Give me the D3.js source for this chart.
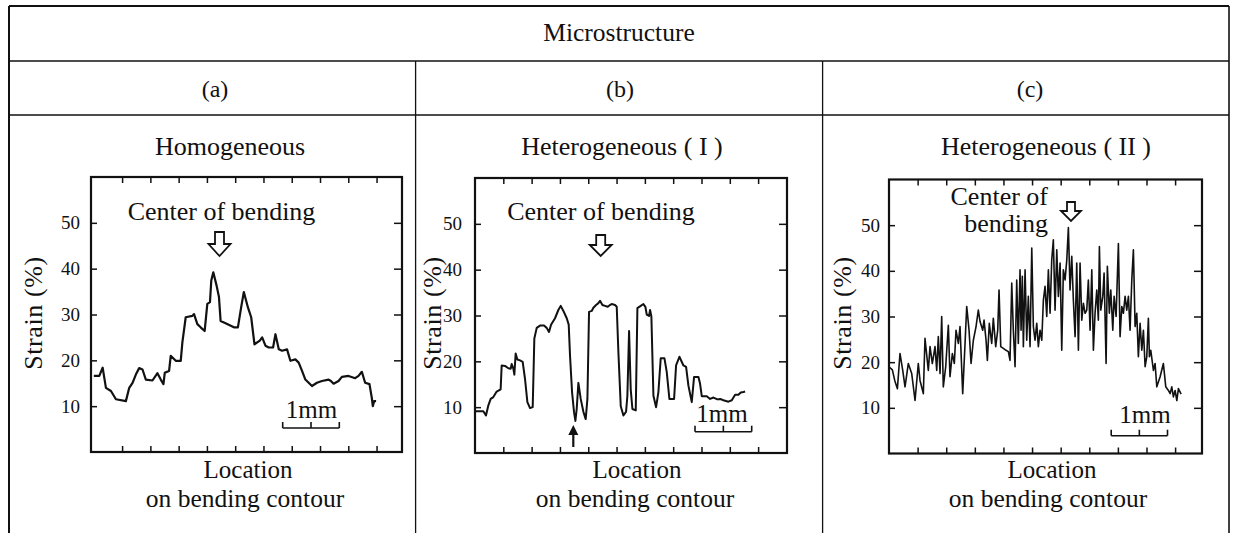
<!DOCTYPE html>
<html><head><meta charset="utf-8">
<script src="https://cdn.jsdelivr.net/npm/d3@7"></script>
<style>
body{margin:0;background:#fff;}
svg{display:block;}
</style>
</head><body>
<svg id="chart" width="1237" height="533"></svg>
<script>
// ---------------- data ----------------
const headerText = "Microstructure";
const columnLabels = ["(a)", "(b)", "(c)"];
const panelTitles = ["Homogeneous", "Heterogeneous ( I )", "Heterogeneous ( II )"];
const yTickValues = [10, 20, 30, 40, 50];
const xTickValues = [0.5, 1, 1.5, 2, 2.5, 3, 3.5, 4, 4.5, 5];
const yLabel = "Strain (%)";
const xLabelLines = ["Location", "on bending contour"];
const annotationA = ["Center of bending"];
const annotationB = ["Center of bending"];
const annotationC = ["Center of", "bending"];
const scaleBarLabel = "1mm";

// (a) Homogeneous: location (mm) vs strain (%)
const locationA = [0,0.097,0.156,0.214,0.303,0.391,0.567,0.626,0.685,0.743,
  0.802,0.861,0.920,1.037,1.125,1.184,1.231,1.255,1.331,1.360,
  1.449,1.537,1.566,1.625,1.742,1.772,1.831,1.889,1.960,2.007,
  2.054,2.077,2.113,2.171,2.213,2.242,2.330,2.477,2.548,2.606,
  2.653,2.724,2.783,2.841,2.935,2.977,3.035,3.094,3.170,3.212,
  3.271,3.329,3.417,3.476,3.564,3.623,3.682,3.741,3.858,3.946,
  4.034,4.152,4.193,4.240,4.328,4.387,4.505,4.622,4.681,4.740,
  4.798,4.875,4.916,4.934,4.957,4.992];
const strainA = [16.6,16.6,18.4,14.0,13.3,11.5,11.1,14.0,15.1,16.9,
  18.3,18.0,15.8,15.6,17.2,15.8,14.8,17.3,17.7,21.0,
  19.9,19.9,23.9,29.4,29.7,30.1,27.9,27.2,26.4,32.3,
  32.7,37.4,39.2,36.3,33.8,28.6,28.1,27.2,27.2,31.6,
  34.9,31.6,29.4,23.5,24.3,25.0,23.2,22.8,22.8,25.7,
  22.4,22.1,22.4,19.9,20.2,19.5,17.7,15.8,14.4,15.1,
  15.5,15.8,15.5,14.9,15.5,16.4,16.6,16.1,16.6,17.5,
  15.1,14.8,11.8,10.0,11.1,11.1];

// (b) Heterogeneous (I)
const locationB = [0,0.088,0.147,0.194,0.236,0.277,0.324,0.383,0.453,0.471,
  0.530,0.589,0.630,0.648,0.677,0.695,0.718,0.748,0.795,0.842,
  0.883,0.925,0.972,1.019,1.048,1.090,1.148,1.219,1.266,1.307,
  1.343,1.413,1.472,1.514,1.561,1.620,1.655,1.678,1.714,1.749,
  1.773,1.796,1.826,1.867,1.914,1.955,1.985,2.014,2.061,2.091,
  2.138,2.179,2.208,2.250,2.297,2.344,2.385,2.415,2.473,2.503,
  2.532,2.574,2.621,2.668,2.691,2.721,2.750,2.780,2.839,2.868,
  2.927,2.974,3.009,3.033,3.074,3.092,3.115,3.151,3.198,3.239,
  3.280,3.345,3.386,3.433,3.516,3.551,3.610,3.681,3.728,3.769,
  3.828,3.869,3.946,3.975,4.005,4.093,4.152,4.211,4.282,4.329,
  4.387,4.476,4.535,4.594,4.652,4.694,4.741,4.770];
const strainB = [9.1,9.1,9.1,8.2,10.4,11.8,12.2,13.4,13.9,19.1,
  19.0,18.5,18.4,19.4,18.4,17.1,21.7,20.4,20.2,19.9,
  16.2,11.1,9.8,10.0,25.0,27.3,27.8,27.8,27.3,26.4,
  28.0,29.4,31.2,32.1,31.0,29.4,28.0,21.3,13.3,8.9,
  7.0,9.6,15.3,11.8,9.0,7.4,11.8,30.8,31.0,31.7,
  32.3,32.7,33.2,32.3,32.1,31.9,32.3,32.5,32.3,31.9,
  22.1,10.2,8.2,9.0,12.5,26.6,13.9,9.6,9.3,31.6,
  32.1,32.5,31.9,30.2,29.9,31.2,29.8,12.5,10.0,13.3,
  20.7,20.7,17.7,11.8,11.8,19.1,21.0,19.1,18.8,14.7,
  11.1,16.6,16.6,15.1,12.4,12.4,11.8,12.1,11.7,11.8,
  11.5,11.2,11.5,12.7,12.7,13.2,13.3,13.4];

// (c) Heterogeneous (II)
const locationC = [0,0.059,0.100,0.147,0.192,0.240,0.280,0.337,0.397,0.455,
  0.512,0.542,0.600,0.629,0.687,0.717,0.757,0.804,0.834,0.862,
  0.892,0.921,0.949,0.991,1.037,1.066,1.107,1.142,1.171,1.212,
  1.241,1.288,1.329,1.358,1.399,1.434,1.474,1.521,1.561,1.591,
  1.638,1.661,1.696,1.719,1.753,1.795,1.823,1.865,1.900,1.923,
  1.953,1.998,2.045,2.086,2.115,2.145,2.173,2.203,2.232,2.260,
  2.290,2.308,2.330,2.348,2.378,2.407,2.435,2.465,2.495,2.523,
  2.552,2.582,2.610,2.640,2.670,2.698,2.727,2.757,2.785,2.815,
  2.844,2.872,2.902,2.932,2.960,2.990,3.019,3.047,3.077,3.107,
  3.135,3.164,3.194,3.222,3.252,3.281,3.310,3.339,3.369,3.397,
  3.427,3.456,3.484,3.514,3.544,3.572,3.601,3.631,3.659,3.677,
  3.701,3.736,3.759,3.794,3.816,3.851,3.876,3.911,3.934,3.969,
  4.009,4.038,4.068,4.096,4.126,4.155,4.184,4.213,4.243,4.271,
  4.301,4.330,4.358,4.388,4.418,4.446,4.476,4.505,4.533,4.551,
  4.575,4.621,4.650,4.680,4.738,4.795,4.837,4.883,4.913,4.942,
  4.970,5.000,5.030,5.058,5.105];
const strainC = [19.0,18.3,16.0,14.2,21.9,18.2,14.6,19.7,17.5,11.6,
  19.7,16.0,13.1,25.2,18.2,23.4,19.7,23.4,18.2,25.6,
  17.5,30.0,14.6,19.0,28.1,16.8,21.9,19.7,27.0,24.1,
  27.8,13.1,24.1,32.2,27.0,19.7,24.8,27.8,31.4,28.9,
  27.0,29.2,24.8,20.4,28.5,24.1,29.6,23.4,27.0,35.8,
  23.4,23.0,22.6,22.3,20.4,37.3,27.0,19.0,38.0,24.1,
  40.2,27.0,38.8,23.4,40.2,24.8,34.4,23.4,45.0,27.8,
  24.8,28.5,23.4,27.0,24.8,33.6,36.6,30.0,40.2,30.7,
  42.4,46.8,31.4,44.6,34.4,41.7,22.6,40.2,38.0,42.4,
  49.5,35.8,43.2,33.6,25.6,41.7,22.6,41.7,29.2,32.9,
  30.7,31.4,38.0,27.0,40.2,22.6,30.7,35.8,29.2,45.3,
  31.4,34.4,39.5,19.7,41.0,30.7,35.8,27.0,34.4,30.0,
  46.0,25.6,32.2,30.7,34.4,31.4,34.4,27.0,38.0,44.6,
  27.8,30.7,21.2,28.5,22.6,27.0,19.0,21.2,29.6,21.2,
  22.6,18.2,19.7,14.6,16.8,19.7,14.6,13.8,13.1,14.6,
  12.4,13.8,11.6,14.2,13.0];

// ---------------- layout ----------------
const FONT = '"Liberation Serif", "Tinos", "Times New Roman", serif';
const svg = d3.select("#chart");
svg.append("rect").attr("width",1237).attr("height",533).attr("fill","#fff");
const txt = (x, y, s, size, anchor) => svg.append("text").attr("x",x).attr("y",y)
  .attr("text-anchor",anchor || "middle").style("font-family",FONT).style("font-size",size+"px")
  .style("fill","#111").text(s);

const T = {left:9, right:1229, top:6, bottom:533, row1:61, row2:115, dividers:[415.6, 822.6]};
const tbl = svg.append("g").attr("stroke","#111").attr("fill","none");
tbl.append("line").attr("x1",T.left).attr("x2",T.right).attr("y1",T.top).attr("y2",T.top).attr("stroke-width",2);
tbl.append("line").attr("x1",T.left).attr("x2",T.left).attr("y1",T.top).attr("y2",T.bottom).attr("stroke-width",2);
tbl.append("line").attr("x1",T.right).attr("x2",T.right).attr("y1",T.top).attr("y2",T.bottom).attr("stroke-width",1.6);
[T.row1, T.row2].forEach(y => tbl.append("line").attr("x1",T.left).attr("x2",T.right).attr("y1",y).attr("y2",y).attr("stroke-width",1.6));
T.dividers.forEach(x => tbl.append("line").attr("x1",x).attr("x2",x).attr("y1",T.row1).attr("y2",T.bottom).attr("stroke-width",1.3));

txt(619, 41, headerText, 25.5);
const colCenters = [215, 620, 1030];
columnLabels.forEach((t,i) => txt(colCenters[i], 97, t, 24));

const panels = [
  {loc:locationA, val:strainA, x0:91, x1:402, y0:177, y1:452, dom:[-0.05,5.45], pad:11, lw:2.2,
   title:panelTitles[0], titleX:230, yLabX:41.5, xLabX:[248,245],
   ann:annotationA, annX:221.5, annY:[220], annAnchor:"middle",
   arrow:{cx:219.5, top:232, neck:244, tip:256, sw:9, hw:22},
   bar:{x0:282.7, x1:339.3, y:428, tx:311.5, ty:418}},
  {loc:locationB, val:strainB, x0:475, x1:787, y0:178, y1:453, dom:[0,5.51], pad:13, lw:2.0,
   title:panelTitles[1], titleX:622, yLabX:441, xLabX:[637,635],
   ann:annotationB, annX:601, annY:[220], annAnchor:"middle",
   arrow:{cx:600.7, top:235, neck:245, tip:256, sw:9, hw:22},
   bar:{x0:695, x1:751.7, y:431.7, tx:722, ty:422},
   upArrow:{cx:573.3, tip:425, tail:447}},
  {loc:locationC, val:strainC, x0:889, x1:1202, y0:179.5, y1:453.5, dom:[0,5.47], pad:9, lw:1.6,
   title:panelTitles[2], titleX:1046, yLabX:851, xLabX:[1052,1048],
   ann:annotationC, annX:1048, annY:[205, 232], annAnchor:"end",
   arrow:{cx:1071, top:202, neck:211, tip:221, sw:8, hw:20},
   bar:{x0:1111.2, x1:1167.5, y:435.7, tx:1145, ty:422.5}}
];

panels.forEach(p => {
  const g = svg.append("g");
  const x = d3.scaleLinear().domain(p.dom).range([p.x0, p.x1]);
  const y = d3.scaleLinear().domain([0, 60]).range([p.y1, p.y0]);

  const styleAxis = sel => {
    sel.select(".domain").remove();
    sel.selectAll(".tick line").attr("stroke","#111").attr("stroke-width",1.5);
    sel.selectAll(".tick text").style("font-family",FONT).style("font-size","19px").style("fill","#111");
  };
  g.append("g").attr("transform",`translate(${p.x0},0)`)
    .call(d3.axisLeft(y).tickValues(yTickValues).tickSize(-6).tickPadding(p.pad).tickSizeOuter(0)).call(styleAxis);
  g.append("g").attr("transform",`translate(${p.x1},0)`)
    .call(d3.axisRight(y).tickValues(yTickValues).tickSize(-8).tickFormat("").tickSizeOuter(0)).call(styleAxis);
  g.append("g").attr("transform",`translate(0,${p.y1})`)
    .call(d3.axisBottom(x).tickValues(xTickValues).tickSize(-6).tickFormat("").tickSizeOuter(0)).call(styleAxis);
  g.append("g").attr("transform",`translate(0,${p.y0})`)
    .call(d3.axisTop(x).tickValues(xTickValues).tickSize(-6).tickFormat("").tickSizeOuter(0)).call(styleAxis);

  g.append("rect").attr("x",p.x0).attr("y",p.y0).attr("width",p.x1-p.x0).attr("height",p.y1-p.y0)
    .attr("fill","none").attr("stroke","#111").attr("stroke-width",2.2);

  const line = d3.line().x(d => x(d[0])).y(d => y(d[1]));
  g.append("path").datum(d3.zip(p.loc, p.val)).attr("d", line)
    .attr("fill","none").attr("stroke","#111").attr("stroke-width",p.lw).attr("stroke-linejoin","round");

  txt(p.titleX, 155, p.title, 26);
  svg.append("text").attr("transform",`translate(${p.yLabX},313) rotate(-90)`).attr("text-anchor","middle")
    .style("font-family",FONT).style("font-size","26px").style("fill","#111").style("letter-spacing","0.6px").text(yLabel);
  txt(p.xLabX[0], 478, xLabelLines[0], 25);
  txt(p.xLabX[1], 507, xLabelLines[1], 25.5);
  p.ann.forEach((t,i) => txt(p.annX, p.annY[i], t, 26, p.annAnchor));

  const a = p.arrow;
  const pts = [[a.cx-a.sw/2,a.top],[a.cx+a.sw/2,a.top],[a.cx+a.sw/2,a.neck],[a.cx+a.hw/2,a.neck],
               [a.cx,a.tip],[a.cx-a.hw/2,a.neck],[a.cx-a.sw/2,a.neck]];
  svg.append("path").attr("d", d3.line()(pts) + "Z").attr("fill","#fff").attr("stroke","#111").attr("stroke-width",1.8);

  const b = p.bar;
  const bp = svg.append("g").attr("stroke","#111").attr("stroke-width",1.6).attr("fill","none");
  bp.append("line").attr("x1",b.x0).attr("x2",b.x1).attr("y1",b.y).attr("y2",b.y);
  [b.x0, (b.x0+b.x1)/2, b.x1].forEach(xx => bp.append("line").attr("x1",xx).attr("x2",xx).attr("y1",b.y).attr("y2",b.y-6));
  txt(b.tx, b.ty, scaleBarLabel, 25);

  if (p.upArrow) {
    const u = p.upArrow;
    svg.append("line").attr("x1",u.cx).attr("x2",u.cx).attr("y1",u.tip+6).attr("y2",u.tail)
      .attr("stroke","#111").attr("stroke-width",2.2);
    svg.append("path").attr("d", d3.line()([[u.cx,u.tip],[u.cx+5,u.tip+10],[u.cx-5,u.tip+10]]) + "Z").attr("fill","#111");
  }
});
</script>
</body></html>
